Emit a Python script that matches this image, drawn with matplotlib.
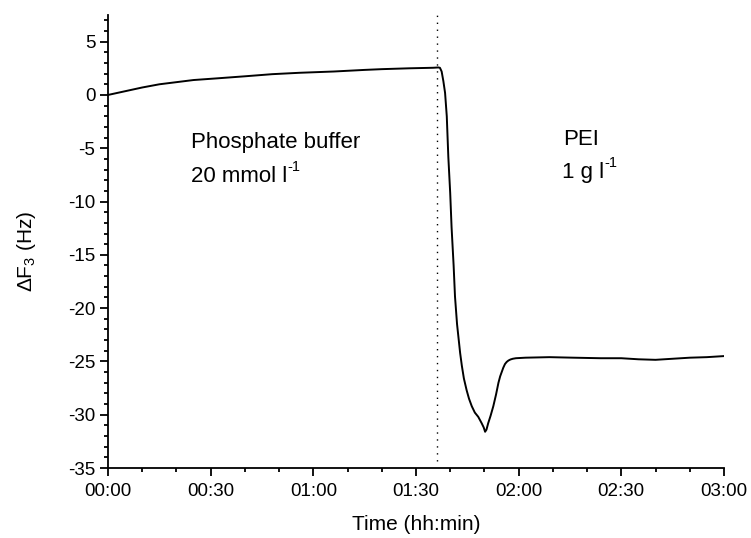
import matplotlib
matplotlib.use("Agg")
import matplotlib.pyplot as plt
from matplotlib.ticker import MultipleLocator, FuncFormatter

plt.rcParams['font.family'] = ['Liberation Sans', 'DejaVu Sans']
plt.rcParams['mathtext.fontset'] = 'custom'
plt.rcParams['mathtext.rm'] = 'Liberation Sans'
plt.rcParams['mathtext.it'] = 'Liberation Sans:italic'
plt.rcParams['axes.unicode_minus'] = False

# time in minutes, frequency shift in Hz
time_min = [0, 5, 10, 15, 20, 25, 32, 40, 48, 56, 66, 75, 80, 88, 95, 96.5,
            97.0, 97.5, 98.0, 98.5, 99.0, 99.45, 100.0, 100.4, 101.0, 101.4,
            102.0, 102.9, 103.4, 104.0, 104.8, 105.5, 106.3, 107.2, 108.2,
            109.2, 109.8, 110.2, 110.6, 111.1, 111.8, 112.6, 113.4, 114.1,
            114.6, 115.5, 116.0, 116.5, 117.0, 117.6, 118.3, 119.2, 122, 129,
            136, 144, 150, 155, 160, 165, 170, 175, 180]
delta_f3 = [0.0, 0.35, 0.7, 1.0, 1.2, 1.4, 1.56, 1.75, 1.95, 2.08, 2.2, 2.35,
            2.42, 2.5, 2.55, 2.58, 2.55, 2.2, 1.3, 0.2, -2.0, -5.8, -9.2,
            -12.4, -16.0, -18.9, -21.5, -24.2, -25.4, -26.6, -27.7, -28.5,
            -29.2, -29.8, -30.2, -30.8, -31.2, -31.6, -31.4, -30.8, -30.1,
            -29.2, -28.1, -27.0, -26.4, -25.6, -25.25, -25.05, -24.92, -24.82,
            -24.75, -24.7, -24.65, -24.6, -24.65, -24.7, -24.7, -24.8, -24.85,
            -24.75, -24.65, -24.6, -24.5]
injection_time = 96.2
x_ticks = [0, 30, 60, 90, 120, 150, 180]
y_ticks = [5, 0, -5, -10, -15, -20, -25, -30, -35]

fig = plt.figure(figsize=(7.51, 5.38), dpi=100)
ax = fig.add_axes([0.1438, 0.1301, 0.964 - 0.1438, 0.9721 - 0.1301])

ax.plot(time_min, delta_f3, color='black', lw=1.4)
ax.axvline(injection_time, ymin=0.015, ymax=1.0, color='black', lw=1.0,
           linestyle=(0, (1, 4)))

ax.set_xlim(0, 180)
ax.set_ylim(-35, 7.5)
ax.set_xticks(x_ticks)
ax.xaxis.set_major_formatter(FuncFormatter(lambda v, p: f"{int(v)//60:02d}:{int(v)%60:02d}"))
ax.xaxis.set_minor_locator(MultipleLocator(10))
ax.set_yticks(y_ticks)
ax.yaxis.set_minor_locator(MultipleLocator(1))

for s in ['top', 'right']:
    ax.spines[s].set_visible(False)
for s in ['left', 'bottom']:
    ax.spines[s].set_linewidth(1.3)

ax.tick_params(which='major', length=6, width=1.3, labelsize=13.5, pad=3)
ax.tick_params(which='minor', length=3, width=1.3)
ax.tick_params(axis='x', which='major', pad=5)

ax.set_xlabel('Time (hh:min)', fontsize=15)
ax.xaxis.set_label_coords(0.5, -0.104)
ax.set_ylabel('ΔF$_\\mathregular{ 3}$ (Hz)', fontsize=15)
ax.yaxis.set_label_coords(-0.114, 0.479)

fig.canvas.draw()
H = fig.bbox.height
def to_axes(xp, yp):
    return ax.transAxes.inverted().transform((xp, H - yp))

for (xp, yp, s, sup) in [(190.7, 148, 'Phosphate buffer', None),
                         (190.7, 181.5, '20 mmol l', '-1'),
                         (563, 145, 'PEI', None),
                         (562, 178, '1 g l', '-1')]:
    xa, ya = to_axes(xp, yp)
    t = ax.text(xa, ya, s, transform=ax.transAxes, fontsize=16,
                va='baseline', ha='left')
    if sup:
        ax.annotate(sup, xy=(1.0, 1.0), xycoords=t, xytext=(0.5, -1),
                    textcoords='offset points', fontsize=10.5,
                    ha='left', va='center')

fig.savefig('out.png', dpi=100)
